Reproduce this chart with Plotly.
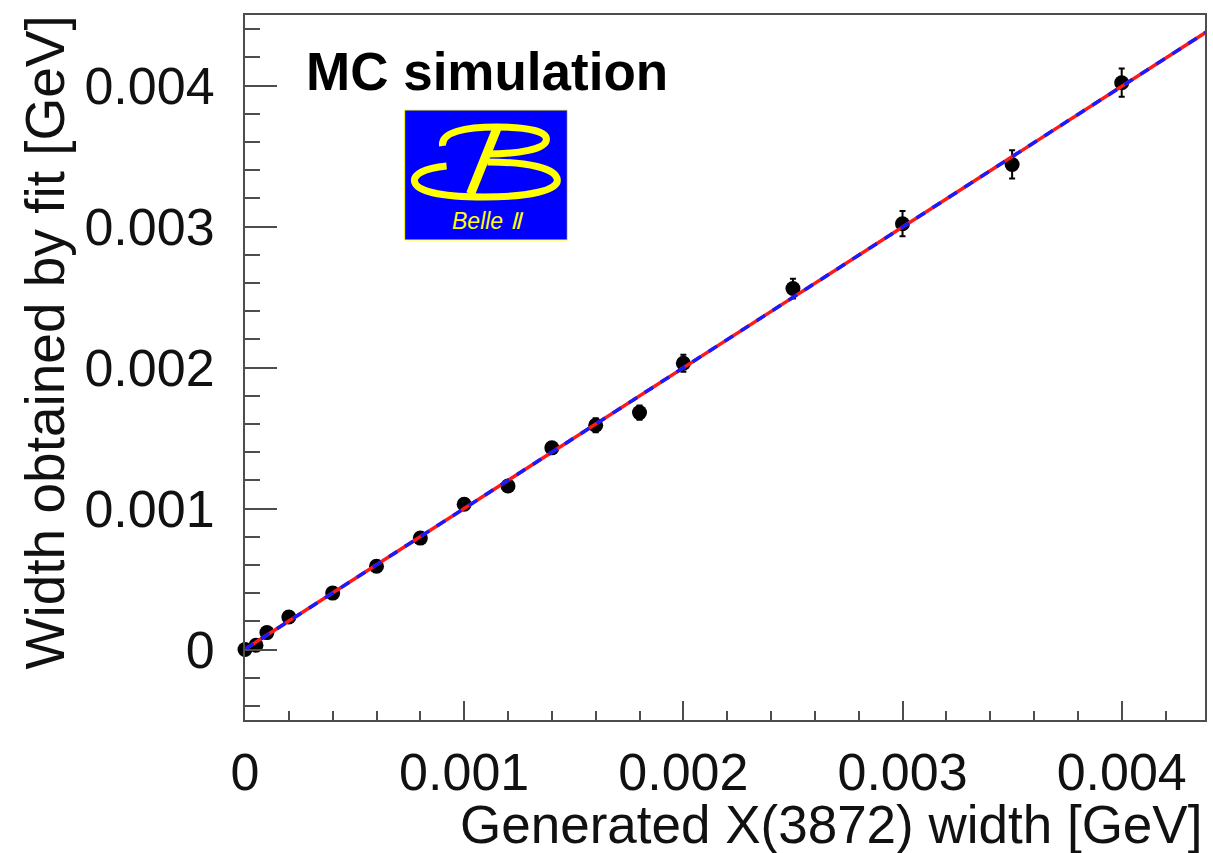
import plotly.graph_objects as go

# Generated X(3872) width vs width returned by the fit (GeV)
gen_width = [0.0, 0.00005, 0.0001, 0.0002, 0.0004, 0.0006, 0.0008, 0.001, 0.0012,
             0.0014, 0.0016, 0.0018, 0.002, 0.0025, 0.003, 0.0035, 0.004]
fit_width = [0.0, 0.00003, 0.00012, 0.00023, 0.00040, 0.00059, 0.00079, 0.00103, 0.00116,
             0.00143, 0.00159, 0.00168, 0.00203, 0.00256, 0.00302, 0.00344, 0.00402]
fit_err = [0.00001, 0.00002, 0.00002, 0.00002, 0.00003, 0.00003, 0.00003, 0.00004, 0.00004,
           0.00004, 0.00005, 0.00005, 0.00006, 0.00007, 0.00009, 0.0001, 0.0001]

# Linear fit parameters (slope, intercept) and its drawing range
fit_slope = 0.998
fit_intercept = 0.000002
fit_range = [0.0, 0.0044]

x_ticks = [0, 0.001, 0.002, 0.003, 0.004]
x_ticktext = ["0", "0.001", "0.002", "0.003", "0.004"]
y_ticks = [0, 0.001, 0.002, 0.003, 0.004]
y_ticktext = ["0", "0.001", "0.002", "0.003", "0.004"]

FONT = "Liberation Sans"
W, H = 1213, 853
L, R, T, B = 245, 6, 15, 133


def px(x):
    return (x - L) / (W - L - R)


def py(y):
    return (H - B - y) / (H - T - B)


def path(cmds):
    out = []
    for c in cmds:
        op, pts = c[0], c[1:]
        out.append(op + " " + " ".join(f"{px(a):.5f},{py(b):.5f}" for a, b in pts))
    return " ".join(out)


fig = go.Figure()

fig.add_trace(go.Scatter(
    x=gen_width, y=fit_width, mode="markers",
    marker=dict(color="black", size=15),
    error_y=dict(type="data", array=fit_err, color="black", thickness=2, width=3),
    cliponaxis=False, showlegend=False,
))

line_y = [fit_slope * v + fit_intercept for v in fit_range]
fig.add_trace(go.Scatter(x=fit_range, y=line_y, mode="lines",
                         line=dict(color="#ff1a1a", width=3.5), showlegend=False))
fig.add_trace(go.Scatter(x=fit_range, y=line_y, mode="lines",
                         line=dict(color="#1a1aff", width=3.5, dash="10px,9px"),
                         showlegend=False))

axis_common = dict(
    showline=True, mirror=True, linecolor="#4d4d4d", linewidth=2,
    showgrid=False, zeroline=False, ticks="inside", tickcolor="#4d4d4d",
    tickfont=dict(family=FONT, size=52, color="#111111"),
)

fig.update_xaxes(
    range=[0, 0.00438], tickvals=x_ticks, ticktext=x_ticktext,
    ticklen=19, tickwidth=2, ticklabelstandoff=6,
    minor=dict(dtick=0.0002, tick0=0, ticklen=9, tickwidth=2, ticks="inside",
               tickcolor="#4d4d4d"),
    **axis_common,
)
fig.update_yaxes(
    range=[-0.0005, 0.0045], tickvals=y_ticks, ticktext=y_ticktext,
    ticklen=32, tickwidth=2, ticklabelstandoff=18,
    minor=dict(dtick=0.0002, tick0=0, ticklen=15, tickwidth=2, ticks="inside",
               tickcolor="#4d4d4d"),
    **axis_common,
)

annotations = [
    dict(text="Generated X(3872) width [GeV]", xref="paper", yref="paper",
         x=px(1206), y=py(824), xanchor="right", yanchor="middle", showarrow=False,
         font=dict(family=FONT, size=53, color="#111111")),
    dict(text="Width obtained by fit [GeV]", xref="paper", yref="paper",
         x=px(45), y=py(13), xanchor="center", yanchor="top", textangle=-90,
         showarrow=False, font=dict(family=FONT, size=55, color="#111111")),
    dict(text="<b>MC simulation</b>", xref="paper", yref="paper",
         x=px(488), y=py(71), xanchor="center", yanchor="middle", showarrow=False,
         font=dict(family=FONT, size=53, color="black")),
    dict(text="<i>Belle Ⅱ</i>", xref="paper", yref="paper",
         x=px(489), y=py(221), xanchor="center", yanchor="middle", showarrow=False,
         font=dict(family=FONT, size=23, color="#ffff00")),
]

yellow = "#ffff00"
shapes = [
    dict(type="rect", xref="paper", yref="paper", x0=px(405), x1=px(568),
         y0=py(110), y1=py(240), fillcolor="#0000ff", line=dict(color=yellow, width=1),
         layer="above"),
    # upper bowl of the B
    dict(type="path", xref="paper", yref="paper", layer="above",
         path=path([("M", (443, 146)),
                    ("C", (441, 132), (466, 127), (497, 127)),
                    ("C", (531, 127), (548, 132), (547, 140)),
                    ("C", (546, 149), (520, 154), (487, 154))]),
         line=dict(color=yellow, width=7)),
    # lower bowl of the B
    dict(type="path", xref="paper", yref="paper", layer="above",
         path=path([("M", (447, 166)),
                    ("C", (424, 168), (413, 175), (415, 182)),
                    ("C", (418, 193), (450, 197), (485, 197)),
                    ("C", (530, 197), (559, 190), (558, 180)),
                    ("C", (557, 168), (528, 162), (488, 162))]),
         line=dict(color=yellow, width=7)),
    # stem
    dict(type="path", xref="paper", yref="paper", layer="above",
         path=path([("M", (498, 127)), ("L", (471, 194))]),
         line=dict(color=yellow, width=9)),
]

fig.update_layout(
    width=W, height=H, margin=dict(l=L, r=R, t=T, b=B),
    paper_bgcolor="white", plot_bgcolor="white",
    annotations=annotations, shapes=shapes,
)

fig.write_html("out.html")
